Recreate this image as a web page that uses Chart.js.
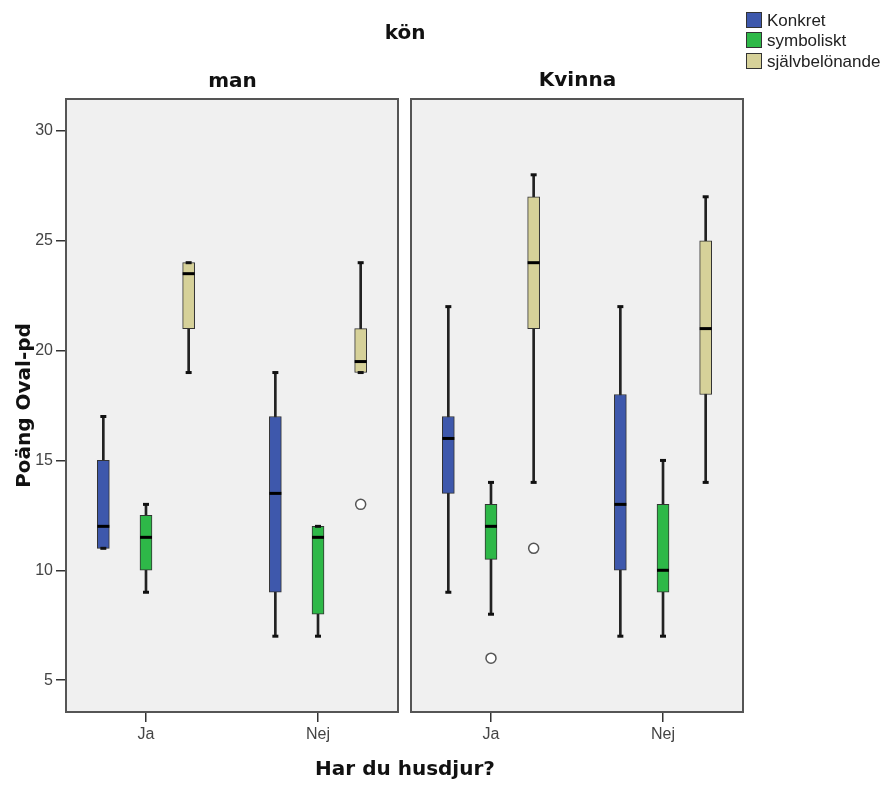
<!DOCTYPE html>
<html>
<head>
<meta charset="utf-8">
<script src="https://cdn.jsdelivr.net/npm/chart.js@4.4.1/dist/chart.umd.min.js"></script>
<style>
  html, body { margin:0; padding:0; background:#fff; }
  #wrap { position:relative; width:882px; height:785px; overflow:hidden; }
  canvas { position:absolute; top:0; }
  .t { position:absolute; font-family:"DejaVu Sans", sans-serif; font-weight:bold; color:#111; white-space:nowrap; font-size:20px; line-height:20px; }
  .leg { position:absolute; left:746px; font-family:"Liberation Sans", Arial, sans-serif; font-size:17px; line-height:17px; color:#222; white-space:nowrap; }
  .leg span.sw { display:inline-block; width:14px; height:14px; border:1px solid #333; vertical-align:-2px; margin-right:5px; }
</style>
</head>
<body>
<div id="wrap">
  <canvas id="cMan" width="407" height="785" style="left:0"></canvas>
  <canvas id="cKv" width="480" height="785" style="left:402px"></canvas>
  <div class="t" id="tKon" style="top:22px; left:0; width:810px; text-align:center;">kön</div>
  <div class="t" id="tMan" style="top:70px; left:66px; width:333px; text-align:center;">man</div>
  <div class="t" id="tKv" style="top:69px; left:411px; width:333px; text-align:center;">Kvinna</div>
  <div class="t" id="tX" style="top:758px; left:0; width:810px; text-align:center;">Har du husdjur?</div>
  <div id="legend"></div>
</div>
<script>
// ---- data ----
const categories = ['Ja', 'Nej'];
const seriesNames = ['Konkret', 'symboliskt', 'självbelönande'];
const seriesColors = ['#3E58AC', '#2EB848', '#D6D199'];
const yTicks = [5, 10, 15, 20, 25, 30];
const panelTitles = ['man', 'Kvinna'];

// each entry per category: [min, q1, median, q3, max]
const manKonkret       = [[11, 11, 12, 15, 17], [7, 9, 13.5, 17, 19]];
const manSymboliskt    = [[9, 10, 11.5, 12.5, 13], [7, 8, 11.5, 12, 12]];
const manSjalv         = [[19, 21, 23.5, 24, 24], [19, 19, 19.5, 21, 24]];
const kvinnaKonkret    = [[9, 13.5, 16, 17, 22], [7, 10, 13, 18, 22]];
const kvinnaSymboliskt = [[8, 10.5, 12, 13, 14], [7, 9, 10, 13, 15]];
const kvinnaSjalv      = [[14, 21, 24, 27, 28], [14, 18, 21, 25, 27]];

// outliers per category
const manKonkretOut       = [[], []];
const manSymbolisktOut    = [[], []];
const manSjalvOut         = [[], [13]];
const kvinnaKonkretOut    = [[], []];
const kvinnaSymbolisktOut = [[6], []];
const kvinnaSjalvOut      = [[11], []];

// ---- chart building ----
const xOffsets = [-0.248, 0, 0.248];

function buildDatasets(series, outliers) {
  const ds = [];
  series.forEach((vals, s) => {
    const xs = categories.map((c, i) => i + xOffsets[s]);
    ds.push({
      type: 'bar', label: seriesNames[s] + ' whisker',
      data: vals.map((v, i) => ({ x: xs[i], y: [v[0], v[4]] })),
      backgroundColor: '#222', borderWidth: 0, barThickness: 2, grouped: false, order: 5
    });
    ds.push({
      type: 'bar', label: seriesNames[s],
      data: vals.map((v, i) => ({ x: xs[i], y: [v[1], v[3]] })),
      backgroundColor: seriesColors[s], borderColor: '#333', borderWidth: 1,
      borderSkipped: false, barThickness: 12, grouped: false, order: 4
    });
    const caps = [];
    vals.forEach((v, i) => { caps.push({ x: xs[i], y: v[0] }); caps.push({ x: xs[i], y: v[4] }); });
    ds.push({
      type: 'line', label: seriesNames[s] + ' caps', data: caps, showLine: false,
      pointStyle: 'line', pointRadius: 3, pointBorderWidth: 3, pointBorderColor: '#111', order: 3
    });
    ds.push({
      type: 'line', label: seriesNames[s] + ' median',
      data: vals.map((v, i) => ({ x: xs[i], y: v[2] })), showLine: false,
      pointStyle: 'line', pointRadius: 6, pointBorderWidth: 3, pointBorderColor: '#000', order: 2
    });
    const outs = [];
    outliers[s].forEach((list, i) => list.forEach(o => outs.push({ x: xs[i], y: o })));
    ds.push({
      type: 'line', label: seriesNames[s] + ' outliers', data: outs, showLine: false,
      pointStyle: 'circle', pointRadius: 5, pointBackgroundColor: '#fff',
      pointBorderColor: '#555', pointBorderWidth: 1.5, order: 1
    });
  });
  return ds;
}

const panelPlugin = {
  id: 'panel',
  beforeDraw(chart) {
    const { ctx, chartArea: a } = chart;
    ctx.save();
    ctx.fillStyle = '#f0f0f0';
    ctx.fillRect(a.left, a.top, a.right - a.left, a.bottom - a.top);
    ctx.restore();
  },
  afterDraw(chart) {
    const { ctx, chartArea: a } = chart;
    ctx.save();
    ctx.strokeStyle = '#555';
    ctx.lineWidth = 2;
    ctx.strokeRect(a.left, a.top, a.right - a.left, a.bottom - a.top);
    ctx.restore();
  }
};

function makeChart(id, series, outliers, showY, padding) {
  return new Chart(document.getElementById(id), {
    type: 'bar',
    data: { datasets: buildDatasets(series, outliers) },
    plugins: [panelPlugin],
    options: {
      responsive: false,
      animation: false,
      events: [],
      layout: { padding: padding },
      plugins: { legend: { display: false }, tooltip: { enabled: false }, title: { display: false } },
      scales: {
        x: {
          type: 'linear', min: -0.465, max: 1.465, offset: false,
          afterBuildTicks: (scale) => { scale.ticks = categories.map((c, i) => ({ value: i })); },
          afterFit: (scale) => { scale.height = 40; },
          ticks: {
            callback: (v, i) => categories[i],
            color: '#444', padding: 3,
            font: { family: '"Liberation Sans", Arial, sans-serif', size: 16 },
            maxRotation: 0, autoSkip: false
          },
          grid: { display: true, drawOnChartArea: false, drawTicks: true, tickLength: 10, color: '#333', lineWidth: 1.5, offset: false },
          border: { display: false }
        },
        y: {
          type: 'linear', min: 3.55, max: 31.45, beginAtZero: false, display: showY,
          afterBuildTicks: (scale) => { scale.ticks = yTicks.map(v => ({ value: v })); },
          afterFit: (scale) => { if (showY) scale.width = 66; },
          ticks: {
            color: '#444', padding: 3,
            font: { family: '"Liberation Sans", Arial, sans-serif', size: 16 }
          },
          grid: { display: true, drawOnChartArea: false, drawTicks: true, tickLength: 10, color: '#333', lineWidth: 1.5 },
          border: { display: false },
          title: {
            display: showY, text: 'Poäng Oval-pd', color: '#111',
            font: { family: '"DejaVu Sans", sans-serif', size: 20, weight: 'bold' },
            padding: { top: 13, bottom: 0 }
          }
        }
      }
    }
  });
}

makeChart('cMan', [manKonkret, manSymboliskt, manSjalv],
  [manKonkretOut, manSymbolisktOut, manSjalvOut], true,
  { left: 0, top: 99, right: 4, bottom: 33 });
makeChart('cKv', [kvinnaKonkret, kvinnaSymboliskt, kvinnaSjalv],
  [kvinnaKonkretOut, kvinnaSymbolisktOut, kvinnaSjalvOut], false,
  { left: 9, top: 99, right: 139, bottom: 33 });

// legend (HTML)
const legend = document.getElementById('legend');
const legendBaselines = [26, 46.5, 67];
seriesNames.forEach((name, i) => {
  const row = document.createElement('div');
  row.className = 'leg';
  row.style.top = (legendBaselines[i] - 14.3) + 'px';
  const sw = document.createElement('span');
  sw.className = 'sw';
  sw.style.background = seriesColors[i];
  row.appendChild(sw);
  row.appendChild(document.createTextNode(name));
  legend.appendChild(row);
});
</script>
</body>
</html>
